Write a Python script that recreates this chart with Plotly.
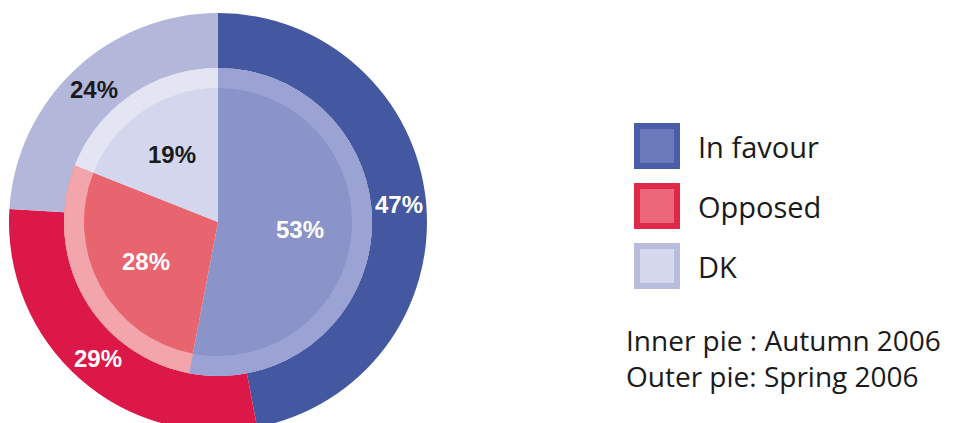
import math
import plotly.graph_objects as go

categories = ["In favour", "Opposed", "DK"]
outer_values = [47, 29, 24]   # Spring 2006
inner_values = [53, 28, 19]   # Autumn 2006
legend_notes = ["Inner pie : Autumn 2006", "Outer pie: Spring 2006"]

outer_colors = ["#4358A0", "#DC1848", "#B3B7DA"]
inner_colors = ["#8A94C9", "#E8646E", "#D3D6EC"]
band_colors = ["#9AA3D3", "#F2A6AC", "#E3E5F3"]
legend_fill = ["#6C79BA", "#EB6878", "#D6D9ED"]
legend_border = ["#4A5DA8", "#E0284A", "#B8BCDD"]
outer_text_colors = ["white", "white", "#1a1a1a"]
inner_text_colors = ["white", "white", "#1a1a1a"]

W, H = 961, 423
OFF = 8             # page body margin seen in the screenshot
CX, CY = 218, 222   # pie centre, screen pixels
R_OUT = 209
R_MID = 154
R_IN = 134


def px(sx):
    return (sx - OFF) / W


def py(sy):
    return 1 - (sy - OFF) / H


def dom(r):
    return dict(x=[max(0, px(CX - r)), px(CX + r)],
                y=[max(0, py(CY + r)), min(1, py(CY - r))])


fig = go.Figure()
fig.add_trace(go.Pie(
    labels=categories, values=outer_values, hole=R_MID / R_OUT,
    domain=dom(R_OUT), sort=False, direction="clockwise", rotation=0,
    marker=dict(colors=outer_colors, line=dict(width=0)),
    textinfo="none", showlegend=False, hoverinfo="label+value"))
fig.add_trace(go.Pie(
    labels=categories, values=inner_values, hole=0,
    domain=dom(R_MID), sort=False, direction="clockwise", rotation=0,
    marker=dict(colors=inner_colors, line=dict(width=0)),
    textinfo="none", showlegend=False, hoverinfo="label+value"))
fig.add_trace(go.Pie(
    labels=categories, values=inner_values, hole=R_IN / R_MID,
    domain=dom(R_MID), sort=False, direction="clockwise", rotation=0,
    marker=dict(colors=band_colors, line=dict(width=0)),
    textinfo="none", showlegend=False, hoverinfo="skip"))

annotations = []
label_font = dict(family="Liberation Sans", size=24, weight="bold")


def slice_labels(values, r_text, colors):
    total = sum(values)
    cum = 0
    for v, c in zip(values, colors):
        theta = math.radians((cum + v / 2) / total * 360)
        cum += v
        sx = CX + r_text * math.sin(theta)
        sy = CY - r_text * math.cos(theta)
        annotations.append(dict(text=f"{v}%", xref="paper", yref="paper",
                                x=px(sx), y=py(sy), xanchor="center",
                                yanchor="middle", showarrow=False,
                                font=dict(**label_font, color=c)))


slice_labels(outer_values, (R_MID + R_OUT) / 2, outer_text_colors)
slice_labels(inner_values, 82, inner_text_colors)

# custom legend
shapes = []
sq_x0, sq_size, sq_y0, sq_step = 634, 46, 123, 60
for i, cat in enumerate(categories):
    y0 = sq_y0 + i * sq_step
    shapes.append(dict(type="rect", xref="paper", yref="paper",
                       x0=px(sq_x0 + 3), x1=px(sq_x0 + sq_size - 3),
                       y0=py(y0 + sq_size - 3), y1=py(y0 + 3),
                       fillcolor=legend_fill[i],
                       line=dict(color=legend_border[i], width=6)))
    annotations.append(dict(text=cat, xref="paper", yref="paper",
                            x=px(696), y=py(y0 + sq_size / 2),
                            xanchor="left", yanchor="middle", showarrow=False,
                            font=dict(family="Open Sans", size=29, color="#1a1a1a")))
annotations.append(dict(text="<br>".join(legend_notes), xref="paper", yref="paper",
                        x=px(624), y=py(358), align="left",
                        xanchor="left", yanchor="middle", showarrow=False,
                        font=dict(family="Open Sans", size=28, color="#1a1a1a")))

fig.update_layout(width=W, height=H, margin=dict(l=0, r=0, t=0, b=0),
                  paper_bgcolor="white", plot_bgcolor="white",
                  shapes=shapes, annotations=annotations, showlegend=False)
fig.write_html("out.html")
